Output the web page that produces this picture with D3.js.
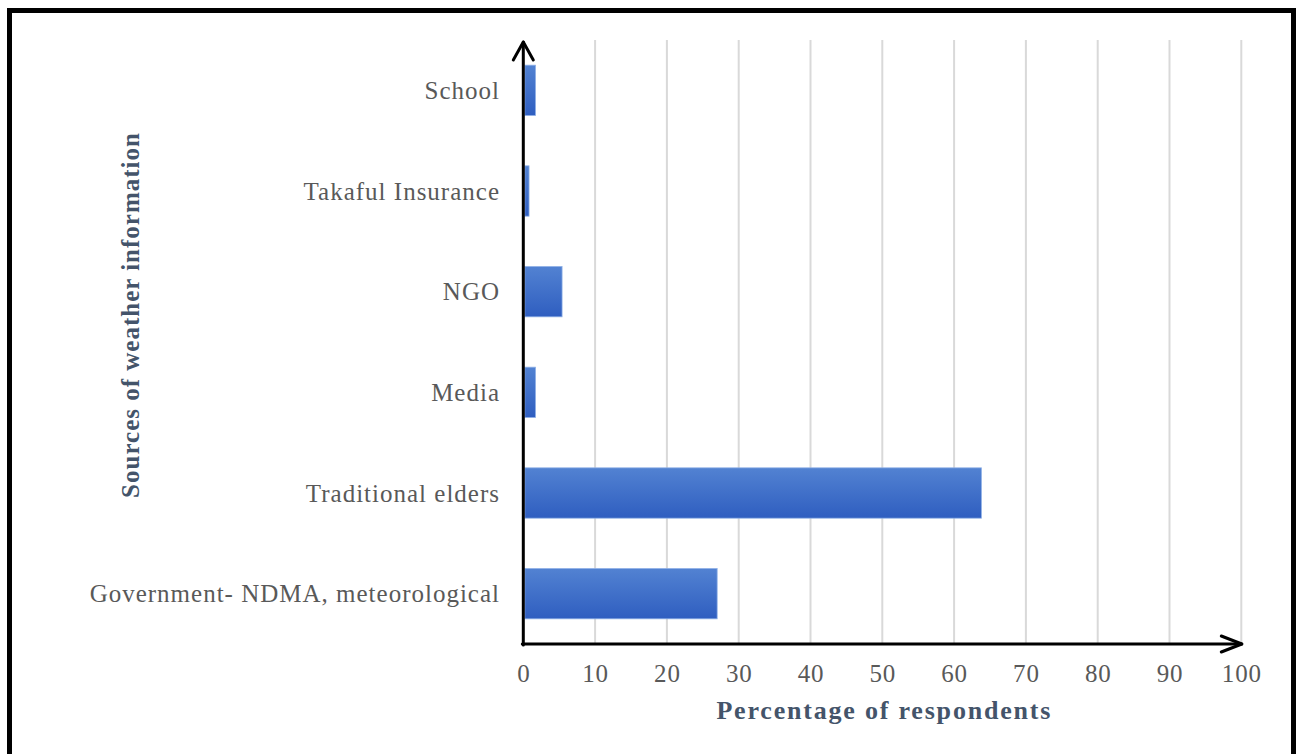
<!DOCTYPE html>
<html>
<head>
<meta charset="utf-8">
<script src="https://cdn.jsdelivr.net/npm/d3@7"></script>
<style>
  html, body { margin: 0; padding: 0; background: #ffffff; }
  svg { display: block; }
  text { font-family: "Liberation Serif", "Times New Roman", serif; }
</style>
</head>
<body>
<svg id="chart" width="1300" height="754"></svg>
<script>
// Sources of weather information (top to bottom) and share of respondents (%)
const categories = [
  "School",
  "Takaful Insurance",
  "NGO",
  "Media",
  "Traditional elders",
  "Government- NDMA, meteorological"
];
const percentages = [1.7, 0.8, 5.4, 1.7, 63.8, 27.0];
const tickValues = [0, 10, 20, 30, 40, 50, 60, 70, 80, 90, 100];
const xTitle = "Percentage of respondents";
const yTitle = "Sources of weather information";

const svg = d3.select("#chart");

// Frame around the figure
svg.append("rect")
  .attr("x", 9.5).attr("y", 10.5)
  .attr("width", 1284).attr("height", 760)
  .attr("fill", "#ffffff")
  .attr("stroke", "#000000")
  .attr("stroke-width", 5);

const plot = { left: 523.3, right: 1241.3, top: 40, bottom: 644 };

const x = d3.scaleLinear().domain([0, 100]).range([plot.left, plot.right]);
const y = d3.scaleBand().domain(categories)
  .range([plot.top, plot.bottom])
  .paddingInner(0.5).paddingOuter(0.25);

// Bar fill gradient
const defs = svg.append("defs");
const grad = defs.append("linearGradient")
  .attr("id", "barFill").attr("x1", 0).attr("y1", 0).attr("x2", 0).attr("y2", 1);
grad.append("stop").attr("offset", "0%").attr("stop-color", "#5282d2");
grad.append("stop").attr("offset", "100%").attr("stop-color", "#2f5ec0");

// Vertical gridlines
svg.append("g")
  .selectAll("line")
  .data(tickValues.filter(d => d > 0))
  .join("line")
  .attr("x1", d => x(d)).attr("x2", d => x(d))
  .attr("y1", plot.top).attr("y2", plot.bottom)
  .attr("stroke", "#d9d9d9")
  .attr("stroke-width", 2);

// Bars
svg.append("g")
  .selectAll("rect")
  .data(categories.map((c, i) => ({ c, v: percentages[i] })))
  .join("rect")
  .attr("x", x(0) + 1.5)
  .attr("y", d => y(d.c))
  .attr("width", d => Math.max(0, x(d.v) - x(0) - 1.5))
  .attr("height", y.bandwidth())
  .attr("fill", "url(#barFill)")
  .attr("stroke", "#8fb0e6")
  .attr("stroke-width", 0.8);

// Category labels
svg.append("g")
  .selectAll("text")
  .data(categories)
  .join("text")
  .attr("x", 500)
  .attr("y", d => y(d) + y.bandwidth() / 2)
  .attr("text-anchor", "end")
  .attr("dominant-baseline", "central")
  .attr("font-size", 25)
  .attr("letter-spacing", 1.0)
  .attr("fill", "#595959")
  .text(d => d);

// X tick labels via d3 axis
const xAxis = d3.axisBottom(x).tickValues(tickValues).tickSize(0).tickPadding(20);
const gx = svg.append("g")
  .attr("transform", `translate(0,${plot.bottom})`)
  .call(xAxis);
gx.select(".domain").remove();
gx.selectAll("text")
  .attr("font-family", "\"Liberation Serif\", \"Times New Roman\", serif")
  .attr("font-size", 25)
  .attr("letter-spacing", 0.8)
  .attr("fill", "#595959");

// Axes with open arrowheads
const axisG = svg.append("g")
  .attr("stroke", "#000000")
  .attr("stroke-width", 3)
  .attr("fill", "none")
  .attr("stroke-linecap", "round")
  .attr("stroke-linejoin", "round");

axisG.append("line")
  .attr("x1", plot.left).attr("y1", plot.bottom + 1)
  .attr("x2", plot.left).attr("y2", 42);
axisG.append("path")
  .attr("d", `M${plot.left - 10},${60} L${plot.left},${42} L${plot.left + 10},${60}`);

axisG.append("line")
  .attr("x1", plot.left - 1).attr("y1", plot.bottom)
  .attr("x2", plot.right + 0.5).attr("y2", plot.bottom);
axisG.append("path")
  .attr("d", `M${plot.right - 20},${plot.bottom - 8} L${plot.right + 0.5},${plot.bottom} L${plot.right - 20},${plot.bottom + 8}`);

// Axis titles
svg.append("text")
  .attr("x", (plot.left + plot.right) / 2 + 2)
  .attr("y", 719)
  .attr("text-anchor", "middle")
  .attr("font-size", 26)
  .attr("font-weight", "bold")
  .attr("letter-spacing", 1.8)
  .attr("fill", "#44546a")
  .text(xTitle);

svg.append("text")
  .attr("transform", "translate(139,315) rotate(-90)")
  .attr("text-anchor", "middle")
  .attr("font-size", 25)
  .attr("font-weight", "bold")
  .attr("letter-spacing", 1.0)
  .attr("fill", "#44546a")
  .text(yTitle);
</script>
</body>
</html>
